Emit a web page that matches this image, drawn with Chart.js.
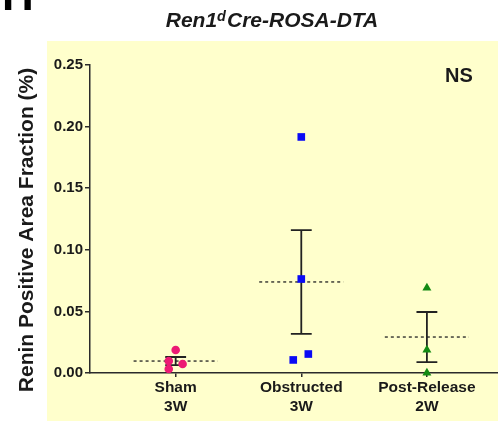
<!DOCTYPE html>
<html>
<head>
<meta charset="utf-8">
<script src="https://cdn.jsdelivr.net/npm/chart.js@4/dist/chart.umd.min.js"></script>
<style>
  html, body { margin: 0; padding: 0; background: #fff; }
  #wrap { width: 498px; height: 421px; }
</style>
</head>
<body>
<div id="wrap"><canvas id="chart" width="498" height="421"></canvas></div>
<script>
// -- data --
const groups = [['Sham', '3W'], ['Obstructed', '3W'], ['Post-Release', '2W']];
const groupPos = [1, 2, 3];

const shamX = [1.0, 0.945, 1.055, 0.945];
const shamY = [0.0187, 0.0097, 0.0073, 0.0032];
const obstructedX = [2.0, 2.0, 1.936, 2.056];
const obstructedY = [0.1916, 0.0763, 0.0106, 0.0154];
const releaseX = [3.0, 3.0, 3.0];
const releaseY = [0.069, 0.0187, 0.0];

const means = [0.0097, 0.0739, 0.0292];
const sems = [0.0033, 0.0421, 0.0203];

const yTicks = [0, 0.05, 0.10, 0.15, 0.20, 0.25];

const FONT = '"Liberation Sans", Arial, Helvetica, sans-serif';
const INK = '#1a1a1a';
const AXIS = '#2b2b2b';

const toPoints = (xs, ys) => xs.map((x, i) => ({ x, y: ys[i] }));

const meanLine = (c, m) => ({
  type: 'scatter',
  data: [{ x: c - 0.335, y: m }, { x: c + 0.335, y: m }],
  showLine: true,
  borderColor: '#222',
  borderWidth: 1.3,
  borderDash: [3, 3],
  pointRadius: 0,
  order: 5
});

const errorBar = (c, m, s) => {
  const w = 0.083, hi = m + s, lo = m - s;
  return {
    type: 'scatter',
    data: [
      { x: c - w, y: hi }, { x: c + w, y: hi }, { x: c, y: hi },
      { x: c, y: lo }, { x: c - w, y: lo }, { x: c + w, y: lo }
    ],
    showLine: true,
    borderColor: '#222',
    borderWidth: 1.8,
    pointRadius: 0,
    order: 4
  };
};

const decorPlugin = {
  id: 'decor',
  beforeDraw(chart) {
    const { ctx } = chart;
    ctx.save();
    ctx.fillStyle = '#ffffcc';
    ctx.fillRect(47, 41, 451, 380);
    ctx.restore();
  },
  afterDraw(chart) {
    const { ctx } = chart;
    ctx.save();
    ctx.fillStyle = '#000';
    // panel letter, cut off at top
    ctx.font = `bold 44px ${FONT}`;
    ctx.textBaseline = 'alphabetic';
    ctx.fillText('H', 2, 10);

    // title with superscript
    ctx.fillStyle = INK;
    const big = `italic bold 21px ${FONT}`, small = `italic bold 14.5px ${FONT}`;
    ctx.font = big;
    const w1 = ctx.measureText('Ren1').width;
    const w3 = ctx.measureText('Cre-ROSA-DTA').width;
    ctx.font = small;
    const w2 = ctx.measureText('d').width + 1;
    let x = 272 - (w1 + w2 + w3) / 2;
    ctx.font = big;
    ctx.fillText('Ren1', x, 27);
    x += w1;
    ctx.font = small;
    ctx.fillText('d', x, 21);
    x += w2;
    ctx.font = big;
    ctx.fillText('Cre-ROSA-DTA', x, 27);

    // y axis title
    ctx.font = `bold 21px ${FONT}`;
    ctx.textAlign = 'center';
    ctx.translate(33, 230);
    ctx.rotate(-Math.PI / 2);
    ctx.fillText('Renin Positive Area Fraction (%)', 0, 0);
    ctx.restore();

    // significance label
    ctx.save();
    ctx.fillStyle = INK;
    ctx.font = `bold 20px ${FONT}`;
    ctx.textAlign = 'center';
    ctx.textBaseline = 'middle';
    ctx.fillText('NS', 459, 76);
    ctx.restore();
  }
};

const ctx = document.getElementById('chart').getContext('2d');
new Chart(ctx, {
  type: 'scatter',
  data: {
    datasets: [
      {
        label: 'Sham 3W',
        data: toPoints(shamX, shamY),
        pointStyle: 'circle',
        pointRadius: 4.3,
        backgroundColor: '#ec1a74',
        borderColor: '#ec1a74',
        borderWidth: 0,
        clip: false,
        order: 0
      },
      {
        label: 'Obstructed 3W',
        data: toPoints(obstructedX, obstructedY),
        pointStyle: 'rect',
        pointRadius: 5.4,
        backgroundColor: '#0a0af5',
        borderColor: '#0a0af5',
        borderWidth: 0,
        clip: false,
        order: 1
      },
      {
        label: 'Post-Release 2W',
        data: toPoints(releaseX, releaseY),
        pointStyle: 'triangle',
        pointRadius: 5.2,
        backgroundColor: '#138a13',
        borderColor: '#138a13',
        borderWidth: 0,
        clip: false,
        order: 2
      },
      ...groupPos.map((c, i) => meanLine(c, means[i])),
      ...groupPos.map((c, i) => errorBar(c, means[i], sems[i]))
    ]
  },
  options: {
    responsive: false,
    animation: false,
    events: [],
    layout: { autoPadding: false, padding: { top: 65, left: 0, right: 0, bottom: 0 } },
    plugins: { legend: { display: false }, tooltip: { enabled: false }, title: { display: false } },
    scales: {
      x: {
        type: 'linear',
        min: 0.318,
        max: 3.566,
        afterBuildTicks: scale => { scale.ticks = groupPos.map(v => ({ value: v })); },
        afterFit: scale => {
          scale.height = 48;
          scale.paddingLeft = 0;
          scale.paddingRight = 0;
        },
        ticks: {
          callback: v => groups[groupPos.indexOf(v)],
          color: INK,
          font: { family: FONT, size: 15.5, weight: 'bold', lineHeight: 1.25 },
          padding: 1,
          maxRotation: 0,
          autoSkip: false
        },
        grid: { display: true, drawOnChartArea: false, drawTicks: true, tickLength: 4, color: AXIS, lineWidth: 1.5 },
        border: { display: true, color: AXIS, width: 1.5 }
      },
      y: {
        min: 0,
        max: 0.25,
        afterBuildTicks: scale => { scale.ticks = yTicks.map(v => ({ value: v })); },
        afterFit: scale => { scale.width = 90; },
        ticks: {
          callback: v => v.toFixed(2),
          color: INK,
          font: { family: FONT, size: 15, weight: 'bold' },
          padding: 2
        },
        grid: { display: true, drawOnChartArea: false, drawTicks: true, tickLength: 5, color: AXIS, lineWidth: 1.5 },
        border: { display: true, color: AXIS, width: 1.5 }
      }
    }
  },
  plugins: [decorPlugin]
});
</script>
</body>
</html>
